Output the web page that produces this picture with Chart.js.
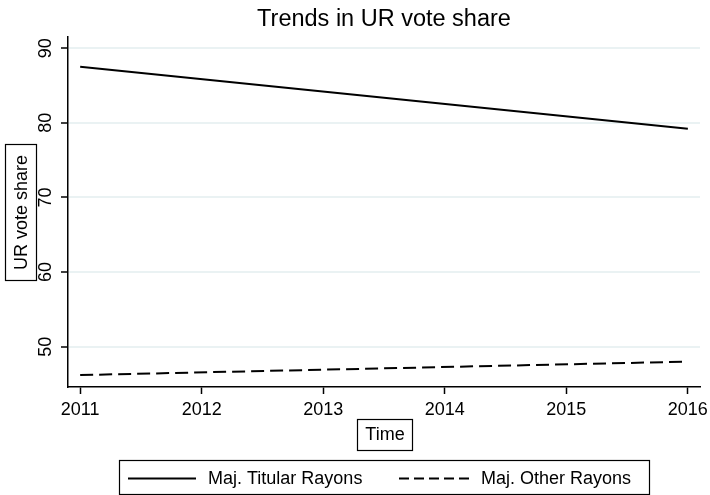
<!DOCTYPE html>
<html>
<head>
<meta charset="utf-8">
<script src="https://cdn.jsdelivr.net/npm/chart.js@4"></script>
<style>
  html, body { margin: 0; padding: 0; background: #fff; }
  #wrap { width: 710px; height: 495px; }
</style>
</head>
<body>
<div id="wrap"><canvas id="myChart" width="710" height="495"></canvas></div>
<script>
const years = [2011, 2016];
const titularShare = [87.5, 79.2];
const otherShare = [46.2, 48.0];
const xTicks = [2011, 2012, 2013, 2014, 2015, 2016];
const yTicks = [50, 60, 70, 80, 90];

const FONT = "'Liberation Sans', Arial, sans-serif";

// stata-like extras: title over the plot region, rotated y labels,
// boxed axis titles, boxed legend
const stataBits = {
  id: "stataBits",
  afterDraw(chart) {
    const c = chart.ctx;
    const y = chart.scales.y;
    const area = chart.chartArea;
    const mid = (area.left + area.right) / 2;
    c.save();
    c.fillStyle = "black";
    c.strokeStyle = "black";

    c.font = "23.5px " + FONT;
    c.textAlign = "center";
    c.textBaseline = "alphabetic";
    c.fillText("Trends in UR vote share", mid, 26);

    c.font = "18px " + FONT;
    c.textBaseline = "middle";
    y.ticks.forEach((t) => {
      c.save();
      c.translate(45, y.getPixelForValue(t.value));
      c.rotate(-Math.PI / 2);
      c.fillText(String(t.value), 0, 1);
      c.restore();
    });

    // y title
    c.lineWidth = 1.2;
    c.strokeRect(5.5, 144.5, 31, 136);
    c.save();
    c.translate(21, 212.5);
    c.rotate(-Math.PI / 2);
    c.fillText("UR vote share", 0, 1);
    c.restore();

    // x title
    c.strokeRect(357.5, 419.5, 55, 31);
    c.fillText("Time", mid + 1, 435);

    // legend
    c.strokeRect(119.5, 460.5, 530, 34);
    c.lineWidth = 2;
    c.beginPath();
    c.moveTo(128, 478.5);
    c.lineTo(196, 478.5);
    c.stroke();
    c.setLineDash([10, 5]);
    c.beginPath();
    c.moveTo(399, 478.5);
    c.lineTo(470, 478.5);
    c.stroke();
    c.setLineDash([]);
    c.textAlign = "left";
    c.fillText("Maj. Titular Rayons", 208, 479);
    c.fillText("Maj. Other Rayons", 481, 479);
    c.restore();
  },
};

const ctx = document.getElementById("myChart");
Chart.defaults.color = "black";
Chart.defaults.font.family = FONT;
new Chart(ctx, {
  type: "line",
  data: {
    datasets: [
      {
        label: "Maj. Titular Rayons",
        data: years.map((x, i) => ({ x: x, y: titularShare[i] })),
        borderColor: "black",
        borderWidth: 2,
        pointRadius: 0,
      },
      {
        label: "Maj. Other Rayons",
        data: years.map((x, i) => ({ x: x, y: otherShare[i] })),
        borderColor: "black",
        borderWidth: 2,
        borderDash: [13, 6],
        pointRadius: 0,
      },
    ],
  },
  options: {
    responsive: false,
    animation: false,
    layout: { padding: { left: 0, right: 10, top: 37, bottom: 0 } },
    scales: {
      x: {
        type: "linear",
        min: 2010.9,
        max: 2016.1,
        afterBuildTicks: (s) => { s.ticks = xTicks.map((v) => ({ value: v })); },
        afterFit: (s) => { s.height = 108; s.paddingLeft = 0; s.paddingRight = 0; },
        ticks: {
          font: { size: 18 },
          padding: 5.5,
          maxRotation: 0,
          callback: (v) => String(v),
        },
        grid: { drawOnChartArea: false, tickColor: "black", tickLength: 7, tickWidth: 1.5 },
        border: { color: "black", width: 1.5 },
      },
      y: {
        min: 44.6,
        max: 91.5,
        afterBuildTicks: (s) => { s.ticks = yTicks.map((v) => ({ value: v })); },
        afterFit: (s) => { s.width = 68; s.paddingTop = 0; s.paddingBottom = 0; },
        ticks: { display: false },
        grid: { color: "#eaf2f3", lineWidth: 2, tickColor: "black", tickLength: 7, tickWidth: 1.5 },
        border: { color: "black", width: 1.5 },
      },
    },
    plugins: {
      legend: { display: false },
      tooltip: { enabled: false },
      title: { display: false },
    },
  },
  plugins: [stataBits],
});
</script>
</body>
</html>
